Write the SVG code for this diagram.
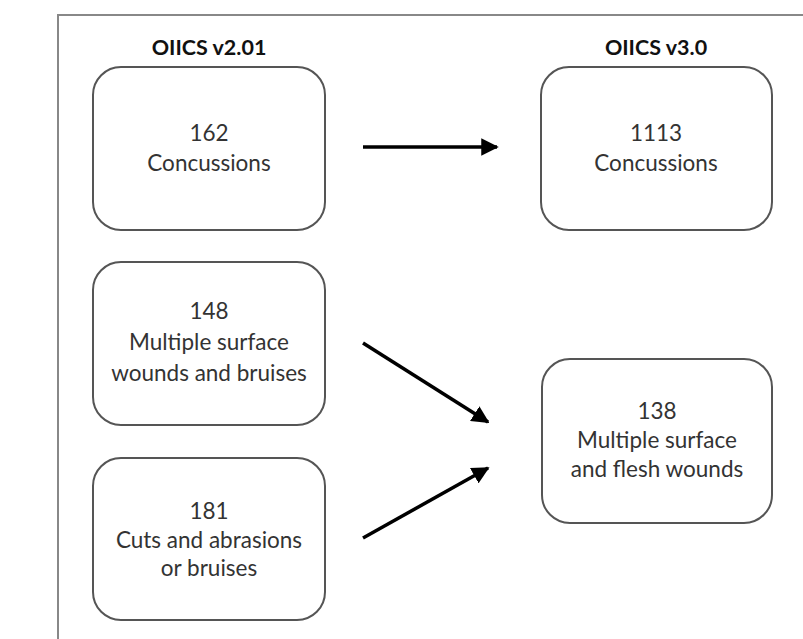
<svg xmlns="http://www.w3.org/2000/svg" width="803" height="639" viewBox="0 0 803 639">
<style>
.box{fill:#fff;stroke:#555;stroke-width:2}
.t{font-family:Lato,"Open Sans","Liberation Sans",sans-serif;font-size:22.5px;fill:#333;text-anchor:middle}
.h{font-family:Lato,"Open Sans","Liberation Sans",sans-serif;font-size:21.5px;font-weight:bold;fill:#111;text-anchor:middle}
.c{stroke:#000;stroke-width:3.5;fill:none;marker-end:url(#ah)}
</style>
<defs>
<marker id="ah" viewBox="0 0 10 10" refX="9" refY="5" markerWidth="5" markerHeight="5" orient="auto" markerUnits="strokeWidth">
<path d="M0,0 L10,5 L0,10 z" fill="#000"/>
</marker>
</defs>
<rect x="0" y="0" width="803" height="639" fill="#fff"/>
<rect id="frame" x="58" y="15" width="760" height="640" fill="none" stroke="#888" stroke-width="2"/>
<text class="h" x="209" y="55">OIICS v2.01</text>
<text class="h" x="656" y="55">OIICS v3.0</text>
<g id="n162">
<rect class="box" x="93" y="67" width="232" height="163" rx="28"/>
<text class="t" x="209" y="141">162</text>
<text class="t" x="209" y="171">Concussions</text>
</g>
<g id="n1113">
<rect class="box" x="541" y="67" width="231" height="163" rx="28"/>
<text class="t" x="656" y="141">1113</text>
<text class="t" x="656" y="171">Concussions</text>
</g>
<g id="n148">
<rect class="box" x="93" y="262" width="232" height="163" rx="28"/>
<text class="t" x="209" y="319">148</text>
<text class="t" x="209" y="350">Multiple surface</text>
<text class="t" x="209" y="381">wounds and bruises</text>
</g>
<g id="n181">
<rect class="box" x="93" y="458" width="232" height="162" rx="28"/>
<text class="t" x="209" y="519">181</text>
<text class="t" x="209" y="548">Cuts and abrasions</text>
<text class="t" x="209" y="576">or bruises</text>
</g>
<g id="n138">
<rect class="box" x="542" y="359" width="230" height="164" rx="28"/>
<text class="t" x="657" y="419">138</text>
<text class="t" x="657" y="448">Multiple surface</text>
<text class="t" x="657" y="477">and flesh wounds</text>
</g>
<g id="connectors">
<line class="c" x1="363" y1="147" x2="497" y2="147"/>
<line class="c" x1="363" y1="343" x2="488" y2="422"/>
<line class="c" x1="363" y1="538" x2="488" y2="468"/>
</g>
</svg>
